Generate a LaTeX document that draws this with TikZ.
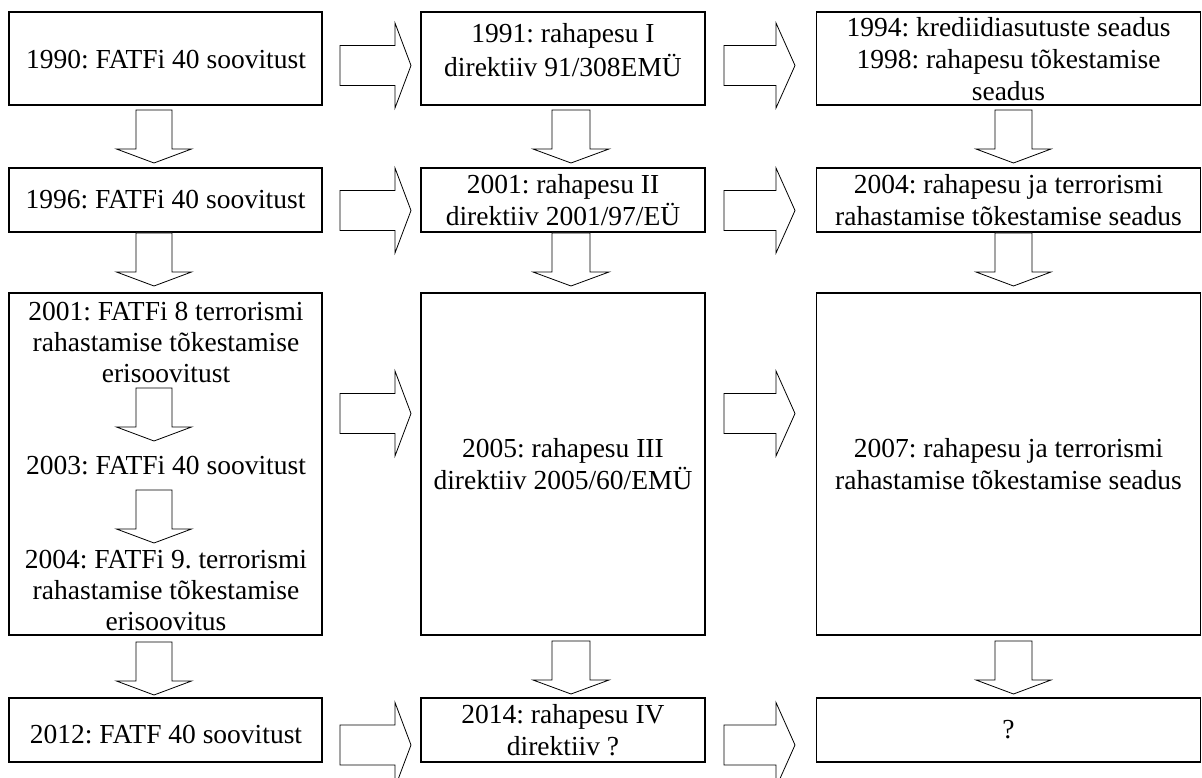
\documentclass[tikz,border=0pt]{standalone}
\usepackage{fontspec}
\setmainfont{Liberation Serif}
\frenchspacing
\tikzset{
  box/.style={draw, line width=1.5pt, align=center, inner sep=0pt, font=\fontsize{27.5}{31.5}\selectfont},
  txt/.style={align=center, inner sep=0pt, font=\fontsize{27.5}{31}\selectfont},
  blk/.style={draw, line width=0.8pt, fill=white, line join=miter}
}
% down block arrow: centre x, top y, shaft half width, wing half width
\newcommand\dblk[4]{\draw[blk] (#1-#3,#2) -- (#1+#3,#2) -- (#1+#3,#2+39) -- (#1+#4,#2+39) -- (#1,#2+53) -- (#1-#4,#2+39) -- (#1-#3,#2+39) -- cycle;}
% right block arrow: tail x, centre y, head x, tip x
\newcommand\rblk[4]{\draw[blk] (#1,#2-20) -- (#3,#2-20) -- (#3,#2-42.5) -- (#4,#2) -- (#3,#2+42.5) -- (#3,#2+20) -- (#1,#2+20) -- cycle;}
\begin{document}
\begin{tikzpicture}[x=1pt,y=-1pt]
\useasboundingbox (0,0) rectangle (1202,778);
% row 1
\node[box, minimum width=313pt, minimum height=93pt] (b11) at (165.5,58.5) {};
\node[txt] (t11) at (166,60) {1990: FATFi 40 soovitust};
\node[box, minimum width=284pt, minimum height=93pt] (b12) at (563,58.5) {};
\node[txt, font=\fontsize{27.5}{34}\selectfont] (t12) at (563,50) {1991: rahapesu I\\direktiiv 91/308EMÜ};
\node[box, minimum width=384pt, minimum height=93pt] (b13) at (1008.5,58.5) {};
\node[txt, font=\fontsize{27.5}{32}\selectfont] (t13) at (1008.5,59) {1994: krediidiasutuste seadus\\1998: rahapesu tõkestamise\\seadus};
% row 2
\node[box, minimum width=313pt, minimum height=64pt] (b21) at (165.5,200) {1996: FATFi 40 soovitust};
\node[box, minimum width=284pt, minimum height=64pt] (b22) at (563,200) {2001: rahapesu II\\direktiiv 2001/97/EÜ};
\node[box, minimum width=384pt, minimum height=64pt] (b23) at (1008.5,200) {2004: rahapesu ja terrorismi\\rahastamise tõkestamise seadus};
% row 3
\node[box, minimum width=313pt, minimum height=342pt] (b31) at (165.5,464) {};
\node[txt] (t31a) at (166,342) {2001: FATFi 8 terrorismi\\rahastamise tõkestamise\\erisoovitust};
\node[txt] (t31b) at (166,466) {2003: FATFi 40 soovitust};
\node[txt] (t31c) at (166,590) {2004: FATFi 9. terrorismi\\rahastamise tõkestamise\\erisoovitus};
\node[box, minimum width=284pt, minimum height=342pt] (b32) at (563,464) {2005: rahapesu III\\direktiiv 2005/60/EMÜ};
\node[box, minimum width=384pt, minimum height=342pt] (b33) at (1008.5,464) {2007: rahapesu ja terrorismi\\rahastamise tõkestamise seadus};
% row 4
\node[box, minimum width=313pt, minimum height=64pt] (b41) at (165.5,730) {};
\node[txt] (t41) at (166,735) {2012: FATF 40 soovitust};
\node[box, minimum width=284pt, minimum height=64pt] (b42) at (563,730) {2014: rahapesu IV\\direktiiv ?};
\node[box, minimum width=384pt, minimum height=64pt] (b43) at (1008.5,730) {?};
% down arrows column 1
\dblk{154}{110}{18}{37.5}
\dblk{154}{233}{18}{37.5}
\dblk{154}{388}{18}{37.5}
\dblk{154}{490}{18}{37.5}
\dblk{154}{642}{18}{37.5}
% column 2
\dblk{571}{110}{19}{38}
\dblk{571}{233}{19}{38}
\dblk{571}{641}{19}{38}
% column 3
\dblk{1013.5}{110}{18.5}{37.5}
\dblk{1013.5}{233}{18.5}{37.5}
\dblk{1013.5}{641}{18.5}{37.5}
% right arrows
\rblk{340}{65.5}{395}{411}
\rblk{340}{210.5}{395}{411}
\rblk{340}{413.5}{395}{411}
\rblk{340}{745}{395}{411}
\rblk{724}{65.5}{776}{795}
\rblk{724}{210.5}{776}{795}
\rblk{724}{413.5}{776}{795}
\rblk{724}{745}{776}{795}
\end{tikzpicture}
\end{document}
